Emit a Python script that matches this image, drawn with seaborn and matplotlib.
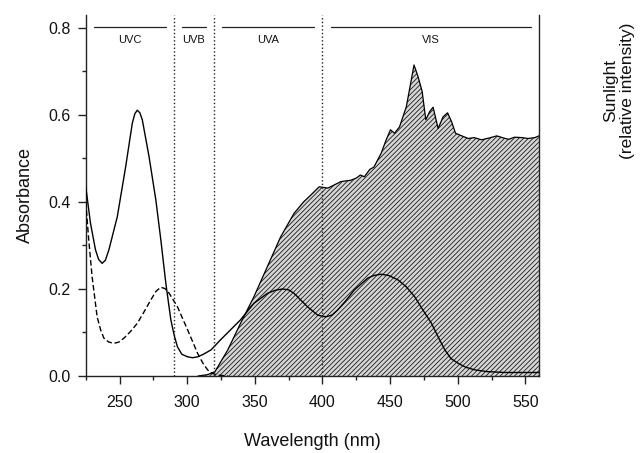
import matplotlib
matplotlib.use("Agg")
import matplotlib.pyplot as plt
from matplotlib.ticker import MultipleLocator
import seaborn as sns
import pandas as pd

# absorbance, solid curve
solid_wl = [225, 228.5, 232.2, 234.5, 237.1, 239.5, 242.1, 248.3, 254.5, 259.4,
            261.3, 263.1, 265, 266.8, 271.8, 276.8, 280.5, 284.2, 287.9, 290.5,
            292.8, 296, 300.3, 304, 307.7, 312, 317.6, 324.6, 332, 339.4,
            349.3, 359.3, 365, 370.4, 375, 379, 389, 396.4, 402.6, 407,
            411.3, 417, 423.6, 433.5, 438, 443.4, 449, 455.8, 462, 468.2,
            474, 480.6, 485.5, 490.5, 495, 500.4, 506, 512.7, 522, 535, 560]
solid_abs = [0.435, 0.351, 0.290, 0.268, 0.259, 0.266, 0.290, 0.366, 0.481, 0.581,
             0.603, 0.611, 0.605, 0.589, 0.504, 0.405, 0.313, 0.213, 0.129, 0.092,
             0.067, 0.050, 0.044, 0.042, 0.044, 0.050, 0.060, 0.083, 0.106, 0.129,
             0.167, 0.190, 0.197, 0.200, 0.198, 0.190, 0.159, 0.140, 0.136, 0.140,
             0.152, 0.172, 0.198, 0.225, 0.231, 0.234, 0.231, 0.221, 0.205, 0.182,
             0.153, 0.121, 0.090, 0.060, 0.040, 0.029, 0.020, 0.014, 0.010, 0.008, 0.008]

# absorbance, dashed curve
dashed_wl = [225, 227.2, 229.7, 233.4, 236, 238.4, 242, 245.8, 249.5, 253.2,
             258, 263.1, 268, 273.1, 277, 280.5, 283.5, 286.7, 292.8, 300.3,
             307.7, 311.5, 315.1, 318.5, 322.6, 330]
dashed_abs = [0.40, 0.313, 0.228, 0.136, 0.106, 0.087, 0.078, 0.075, 0.078, 0.087,
              0.102, 0.121, 0.147, 0.175, 0.195, 0.204, 0.201, 0.190, 0.159, 0.106,
              0.052, 0.030, 0.014, 0.006, 0.002, 0.0]

# sunlight spectrum (relative intensity, plotted on absorbance scale)
sun_wl = [308, 315, 320.5, 330, 339.4, 349.3, 359.2, 369.1, 379, 386,
          391.4, 397.6, 404, 413.7, 421, 425, 428, 431, 435, 438,
          443.4, 447.1, 450.3, 453.3, 457, 462, 465.2, 467.7, 470.7, 473.7,
          476.4, 479.3, 481.8, 485.5, 489.2, 492.5, 495.4, 498.4, 503, 507.8,
          512, 517.7, 523, 528.9, 533, 537.6, 542, 547.5, 552, 557, 560]
sun_int = [0.0, 0.003, 0.010, 0.060, 0.121, 0.182, 0.251, 0.320, 0.374, 0.400,
           0.416, 0.435, 0.432, 0.447, 0.450, 0.455, 0.462, 0.458, 0.475, 0.480,
           0.512, 0.543, 0.566, 0.558, 0.573, 0.619, 0.673, 0.715, 0.688, 0.654,
           0.589, 0.608, 0.618, 0.569, 0.596, 0.605, 0.585, 0.558, 0.552, 0.546,
           0.548, 0.543, 0.547, 0.552, 0.548, 0.544, 0.549, 0.548, 0.546, 0.548, 0.552]

# spectral regions
band_names = ["UVC", "UVB", "UVA", "VIS"]
band_start = [225, 290, 320, 400]
band_end = [290, 320, 400, 560]
band_edges = [290, 320, 400]

sns.set_theme(style="ticks")
plt.rcParams["font.family"] = ["Liberation Sans", "DejaVu Sans"]
plt.rcParams["hatch.linewidth"] = 0.6
plt.rcParams["text.color"] = "#111111"
plt.rcParams["axes.labelcolor"] = "#111111"
plt.rcParams["xtick.labelcolor"] = "#111111"
plt.rcParams["ytick.labelcolor"] = "#111111"

fig = plt.figure(figsize=(6.4, 4.53), dpi=100)
ax = fig.add_axes([0.134, 0.170, 0.708, 0.797])

ax.fill_between(sun_wl, sun_int, facecolor="#d6d6d6", edgecolor="#1a1a1a",
                hatch="///////", linewidth=0, zorder=1)
sns.lineplot(data=pd.DataFrame({"wl": sun_wl, "v": sun_int}), x="wl", y="v",
             estimator=None, sort=False, color="black", linewidth=0.9, ax=ax, zorder=2)
sns.lineplot(data=pd.DataFrame({"wl": solid_wl, "v": solid_abs}), x="wl", y="v",
             estimator=None, sort=False, color="black", linewidth=1.0, ax=ax, zorder=3)
sns.lineplot(data=pd.DataFrame({"wl": dashed_wl, "v": dashed_abs}), x="wl", y="v",
             estimator=None, sort=False, color="black", linewidth=1.0,
             linestyle=(0, (4, 2)), ax=ax, zorder=3)

for e in band_edges:
    ax.axvline(e, color="#222222", linestyle=":", linewidth=1.0, zorder=4)

for name, s, e in zip(band_names, band_start, band_end):
    ax.plot([s + 6, e - 6], [0.803, 0.803], color="#222222", linewidth=0.9)
    ax.text((s + e) / 2, 0.772, name, ha="center", va="center", fontsize=8)

ax.set_xlim(225, 560)
ax.set_ylim(0, 0.83)
ax.xaxis.set_major_locator(MultipleLocator(50))
ax.xaxis.set_minor_locator(MultipleLocator(25))
ax.yaxis.set_major_locator(MultipleLocator(0.2))
ax.yaxis.set_minor_locator(MultipleLocator(0.1))
ax.yaxis.set_major_formatter(plt.FuncFormatter(lambda v, p: f"{v:.1f}"))
ax.tick_params(which="major", length=6, width=1, labelsize=11.5, color="#222", pad=5)
ax.tick_params(which="minor", length=3, width=1, color="#222")
ax.tick_params(axis="x", which="both", bottom=True)
ax.tick_params(axis="x", which="major", pad=8)
ax.tick_params(axis="y", which="both", left=True)

ax.spines["top"].set_visible(False)
for s in ["left", "right", "bottom"]:
    ax.spines[s].set_color("#222222")
    ax.spines[s].set_linewidth(1.0)

ax.set_xlabel("Wavelength (nm)", fontsize=13, labelpad=16)
ax.set_ylabel("Absorbance", fontsize=13, labelpad=10)
fig.text(0.968, 0.80, "Sunlight\n(relative intensity)", rotation=90,
         ha="center", va="center", fontsize=12.5, linespacing=1.15)

fig.savefig("out.png", dpi=100)
